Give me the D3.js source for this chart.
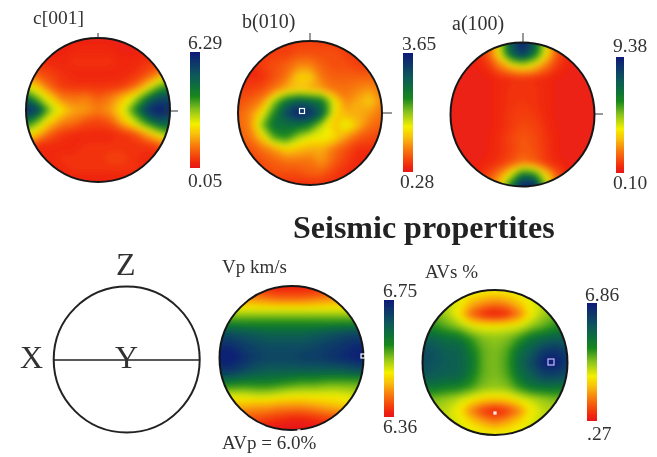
<!DOCTYPE html>
<html>
<head>
<meta charset="utf-8">
<script src="https://cdn.jsdelivr.net/npm/d3@7/dist/d3.min.js"></script>
<style>
html,body{margin:0;padding:0;background:#fff}
svg{display:block}
text{font-family:"Liberation Serif",serif;fill:#333}
</style>
</head>
<body>
<svg id="chart" width="657" height="457"></svg>
<script>
// values, rows run top to bottom of each net
const cValues=[
[.3,.3,.3,.3,.3,.3,.3,.3,.3,.3,.3,.3,.3],
[.3,.3,.3,.3,.4,.4,.4,.4,.3,.3,.3,.3,.3],
[.4,.4,.4,.4,.5,.5,.5,.5,.4,.4,.5,.6,.7],
[.9,.9,.7,.5,.4,.4,.4,.4,.4,.5,.8,1.3,2.2],
[2.5,1.9,1.0,.6,.5,.5,.5,.5,.6,1.0,1.9,3.2,3.9],
[4.7,3.2,2.2,1.3,1.2,1.3,1.0,1.3,1.9,2.7,4.1,5.3,5.4],
[6.0,5.5,3.2,2.3,1.7,1.6,1.3,1.6,2.4,3.9,5.7,6.29,6.0],
[4.4,3.2,2.1,1.4,1.2,.8,.7,.9,1.8,2.7,3.9,5.0,5.0],
[2.5,1.9,1.0,.6,.4,.4,.4,.4,.5,.8,1.6,2.5,3.4],
[.9,.4,.4,.4,.4,.5,.5,.5,.5,.5,.5,.7,1.3],
[.4,.4,.4,.5,.5,.5,.5,.7,.7,.5,.4,.4,.4],
[.3,.3,.4,.4,.5,.5,.5,.5,.5,.5,.4,.3,.3],
[.3,.3,.3,.3,.3,.3,.3,.3,.3,.3,.3,.3,.3]
];
const bValues=[
[.6,.6,.6,.6,.6,.6,.6,.6,.6,.6,.6,.6,.6],
[.6,.6,.6,.6,.6,.7,.7,.7,.7,.6,.6,.6,.6],
[.5,.5,.6,.7,.8,1.0,1.0,.8,.7,.7,.6,.6,.6],
[.5,.5,.5,.7,.9,1.4,1.4,.9,.8,.8,.8,.8,.8],
[.6,.6,.7,.9,1.2,1.3,1.2,1.1,.9,.9,1.0,1.1,.9],
[.7,.8,1.0,1.9,2.6,2.9,2.8,2.6,1.6,1.0,1.2,1.4,1.0],
[.8,1.0,1.5,2.4,3.2,3.65,3.5,2.9,1.5,1.2,1.2,1.1,.9],
[.8,1.0,2.0,2.7,2.7,2.7,2.5,1.8,1.3,1.75,1.3,.9,.8],
[.8,.9,1.4,2.2,2.4,1.9,1.6,1.6,1.5,1.1,.8,.7,.6],
[.7,.7,.9,1.1,1.4,1.3,1.2,1.2,.9,.7,.5,.5,.5],
[.6,.6,.7,.8,.9,.9,.9,1.1,.8,.6,.45,.45,.5],
[.5,.5,.6,.7,.7,.7,.8,.8,.6,.5,.45,.45,.5],
[.5,.5,.5,.5,.5,.5,.5,.5,.5,.5,.5,.5,.5]
];
const aValues=[
[.5,.5,.5,.5,3.6,7.5,9.38,7.5,3.6,.6,.5,.5,.5],
[.5,.5,.5,1.2,3.4,7.0,8.5,6.5,3.4,1.2,.5,.5,.5],
[.5,.5,.5,.7,1.8,2.9,3.5,3.0,1.8,.8,.5,.5,.5],
[.45,.45,.5,.5,.6,.7,.8,.7,.6,.5,.5,.45,.45],
[.45,.45,.5,.5,.6,.8,.8,.8,.6,.5,.5,.45,.45],
[.5,.5,.5,.5,.6,.8,.9,.8,.6,.5,.5,.5,.5],
[.5,.5,.5,.5,.6,.9,1.0,.9,.6,.5,.5,.5,.5],
[.5,.5,.5,.5,.6,.9,1.2,1.1,.7,.5,.5,.5,.5],
[.5,.5,.5,.5,.7,1.1,1.4,1.2,.8,.5,.5,.5,.5],
[.5,.5,.5,.5,.7,1.0,1.4,1.3,.8,.5,.5,.5,.5],
[.5,.5,.5,.6,.8,1.3,1.8,1.5,.9,.6,.5,.5,.5],
[.5,.5,.5,1.0,2.0,3.8,6.6,5.9,3.2,1.3,.5,.5,.5],
[.5,.5,.5,1.5,3.0,6.6,9.38,9.38,4.7,1.2,.5,.5,.5]
];
const vpValues=[
[6.38,6.38,6.38,6.38,6.37,6.37,6.37,6.37,6.37,6.38,6.38,6.38,6.38],
[6.45,6.45,6.45,6.44,6.43,6.42,6.42,6.42,6.43,6.44,6.45,6.46,6.46],
[6.52,6.52,6.52,6.52,6.52,6.52,6.52,6.52,6.52,6.52,6.52,6.52,6.52],
[6.60,6.60,6.60,6.60,6.60,6.60,6.60,6.60,6.60,6.60,6.60,6.60,6.60],
[6.69,6.69,6.68,6.67,6.66,6.66,6.66,6.66,6.67,6.68,6.69,6.70,6.70],
[6.73,6.73,6.71,6.70,6.69,6.69,6.69,6.69,6.70,6.71,6.72,6.73,6.74],
[6.75,6.75,6.73,6.71,6.70,6.70,6.70,6.71,6.71,6.72,6.73,6.74,6.75],
[6.72,6.72,6.70,6.68,6.67,6.67,6.67,6.67,6.67,6.67,6.67,6.68,6.69],
[6.63,6.63,6.62,6.62,6.62,6.61,6.60,6.59,6.59,6.58,6.58,6.58,6.58],
[6.53,6.53,6.53,6.54,6.54,6.53,6.52,6.52,6.52,6.52,6.52,6.53,6.54],
[6.47,6.47,6.47,6.46,6.46,6.45,6.45,6.45,6.46,6.47,6.48,6.49,6.50],
[6.41,6.41,6.41,6.41,6.40,6.39,6.38,6.38,6.39,6.40,6.41,6.41,6.41],
[6.37,6.37,6.37,6.37,6.36,6.36,6.36,6.36,6.36,6.37,6.37,6.37,6.37]
];
const avsValues=[
[3.2,3.2,3.2,3.1,3.0,2.9,2.8,2.9,3.0,3.1,3.2,3.2,3.2],
[3.5,3.5,3.3,2.9,2.25,1.9,1.7,1.9,2.4,2.9,3.3,3.5,3.5],
[3.8,3.8,3.4,2.6,1.3,.6,.3,.6,1.5,2.7,3.4,3.8,3.8],
[4.3,4.3,3.9,3.5,3.0,2.8,2.8,2.9,3.0,3.5,3.9,4.3,4.3],
[5.4,5.3,5.0,4.9,4.2,3.7,3.6,3.7,4.2,4.9,5.2,5.4,5.4],
[5.9,5.7,5.4,5.4,4.7,3.9,3.7,4.0,5.0,5.5,6.2,6.4,6.1],
[5.9,5.7,5.5,5.4,4.9,3.9,3.7,4.1,5.2,5.9,6.7,6.86,6.3],
[5.7,5.5,5.4,5.4,4.7,3.9,3.7,4.0,5.0,5.5,6.1,6.1,5.9],
[4.9,4.9,4.7,4.6,4.2,3.7,3.6,3.7,4.3,4.9,5.0,5.0,4.9],
[3.8,3.7,3.5,3.2,2.8,2.5,2.4,2.5,2.9,3.2,3.5,3.7,3.8],
[3.4,3.4,3.2,2.7,1.6,.8,.4,.8,1.6,2.7,3.2,3.4,3.4],
[3.4,3.3,3.2,3.0,2.6,2.1,1.7,2.1,2.6,3.0,3.3,3.4,3.4],
[3.2,3.2,3.2,3.1,3.0,3.0,3.0,3.0,3.0,3.1,3.2,3.2,3.2]
];
const cRange=[0.05,6.29], bRange=[0.28,3.65], aRange=[0.10,9.38], vpRange=[6.36,6.75], avsRange=[0.27,6.86];
const cTicks=['6.29','0.05'], bTicks=['3.65','0.28'], aTicks=['9.38','0.10'], vpTicks=['6.75','6.36'], avsTicks=['6.86','.27'];
const colourStops=[[0,'#e8161a'],[.05,'#f0280e'],[.1,'#f4440c'],[.2,'#f8800a'],[.3,'#f8c408'],[.38,'#f4f000'],[.5,'#8cc41a'],[.62,'#16861e'],[.8,'#07585a'],[1,'#0a1a78']];

const svg=d3.select('#chart');
const defs=svg.append('defs');
const blur=defs.append('filter').attr('id','soft').attr('x','-20%').attr('y','-20%').attr('width','140%').attr('height','140%')
    .attr('color-interpolation-filters','sRGB');
blur.append('feGaussianBlur').attr('stdDeviation',3);
const page=defs.append('filter').attr('id','page').attr('filterUnits','userSpaceOnUse')
    .attr('x',0).attr('y',0).attr('width',657).attr('height',457);
page.append('feGaussianBlur').attr('stdDeviation',0.55);

const grad=defs.append('linearGradient').attr('id','bar').attr('x1',0).attr('x2',0).attr('y1',1).attr('y2',0);
grad.selectAll('stop').data(colourStops).enter().append('stop')
    .attr('offset',d=>d[0]).attr('stop-color',d=>d[1]);

const level=d3.scaleLinear().domain(colourStops.map(d=>d[0])).range(colourStops.map(d=>d[1])).interpolate(d3.interpolateRgb);

const root=svg.append('g').attr('filter','url(#page)');

let drawNet=(id,values,range,cx,cy,r)=>{
    let n=values[0].length;
    let x=d3.scaleLinear().domain([.5,n-.5]).range([cx-r,cx+r]);
    let y=d3.scaleLinear().domain([.5,n-.5]).range([cy-r,cy+r]);
    let t=d3.scaleLinear().domain(range).range([0,1]).clamp(true);
    let path=d3.geoPath(d3.geoTransform({point(a,b){this.stream.point(x(a),y(b))}}));
    let thresholds=d3.range(0,60).map(i=>range[0]+(range[1]-range[0])*i/60);
    let contours=d3.contours().size([n,n]).thresholds(thresholds).smooth(true)(values.flat());

    defs.append('clipPath').attr('id','clip-'+id).append('circle').attr('cx',cx).attr('cy',cy).attr('r',r);
    let g=root.append('g').attr('clip-path','url(#clip-'+id+')').append('g').attr('filter','url(#soft)');
    g.selectAll('path').data(contours).enter().append('path')
        .attr('d',path)
        .attr('fill',d=>level(t(d.value)))
        .attr('stroke',d=>level(t(d.value))).attr('stroke-width',.4);
    root.append('circle').attr('cx',cx).attr('cy',cy).attr('r',r)
        .attr('fill','none').attr('stroke','#151515').attr('stroke-width',2);
}

let drawBar=(range,ticks,x0,x1,y0,y1,labelX,topY,botY,botX)=>{
    let y=d3.scaleLinear().domain(range).range([y1,y0]);
    root.append('rect').attr('x',x0).attr('width',x1-x0)
        .attr('y',y(range[1])).attr('height',y(range[0])-y(range[1]))
        .attr('fill','url(#bar)');
    label(ticks[0],labelX,topY,19.5);
    label(ticks[1],botX===undefined?labelX:botX,botY,19.5);
}

let label=(s,x,y,size,weight)=>{
    return root.append('text').attr('x',x).attr('y',y).attr('font-size',size)
        .attr('font-weight',weight||'normal').text(s);
}

let mark=(x1,y1,x2,y2)=>{
    root.append('line').attr('x1',x1).attr('y1',y1).attr('x2',x2).attr('y2',y2)
        .attr('stroke','#333').attr('stroke-width',1);
}

let marker=(x,y,s,col)=>{
    root.append('rect').attr('x',x-s/2).attr('y',y-s/2).attr('width',s).attr('height',s)
        .attr('fill','none').attr('stroke',col).attr('stroke-width',1.2);
}

// top row, crystal axes
drawNet('c',cValues,cRange,98,110,72);
drawNet('b',bValues,bRange,310,113,72);
drawNet('a',aValues,aRange,522.5,114.5,72);
drawBar(cRange,cTicks,190,200,52,168,188,49,187);
drawBar(bRange,bTicks,403,413,53,172,402,50,188,400);
drawBar(aRange,aTicks,616,624,57,173,613,52,189);
label('c[001]',33,24,19.5);
label('b(010)',242,28,20);
label('a(100)',452,30,20);
mark(98,33,98,38);mark(170,111,178,111);mark(165,107,165,115);
mark(310,33,310,41);mark(383,113,392,113);
mark(523,33,523,43);mark(595,114,603,114);
marker(302,111,5,'#fff');

label('Seismic propertites',293,238,32,'bold').style('fill','#222');

// reference frame
root.append('circle').attr('cx',126.7).attr('cy',359.5).attr('r',73)
    .attr('fill','none').attr('stroke','#222').attr('stroke-width',2);
root.append('line').attr('x1',53).attr('x2',200).attr('y1',360).attr('y2',360)
    .attr('stroke','#222').attr('stroke-width',1.6);
label('Z',116,275,32);
label('X',20,368,32);
label('Y',115,368,32);

// bottom row, seismic properties
drawNet('vp',vpValues,vpRange,291.5,358,72);
drawNet('avs',avsValues,avsRange,495,362.5,72.5);
drawBar(vpRange,vpTicks,384,394,300,417,383,297,433);
drawBar(avsRange,avsTicks,587,597,303,421,585,301,440,587);
label('Vp km/s',222,273,19);
label('AVp = 6.0%',222,449,19);
label('AVs %',425,278,19);
marker(363,356,4,'#fff');
marker(299,431,2,'#fff');
marker(551,362,6,'#c9b8ff');
marker(495,413,2,'#fff');
</script>
</body>
</html>
